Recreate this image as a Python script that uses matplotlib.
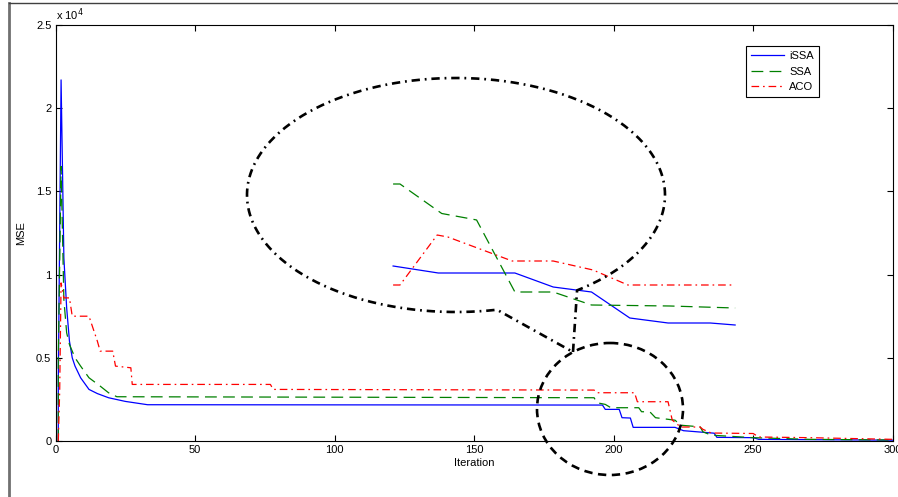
import numpy as np
import matplotlib
matplotlib.use("Agg")
import matplotlib.pyplot as plt
from matplotlib.patches import Ellipse

plt.rcParams['font.family'] = ['Liberation Sans', 'DejaVu Sans']
plt.rcParams['lines.scale_dashes'] = False

# ---------------- data (MSE in units of 1e4) ----------------
issa_iter = [1, 1, 2, 3, 4, 5, 6, 7, 9, 12, 15, 19, 25, 33, 196, 197, 202, 203, 206, 207,
             222, 225, 236, 237, 250, 252, 270, 300]
issa_mse = [0.0, 0.36, 2.17, 1.10, 0.80, 0.60, 0.50, 0.45, 0.38, 0.31, 0.285, 0.26, 0.238,
            0.218, 0.216, 0.19, 0.19, 0.14, 0.138, 0.082, 0.082, 0.062, 0.047, 0.022,
            0.02, 0.01, 0.008, 0.005]

ssa_iter = [1, 1, 2, 3, 4, 5, 7, 9, 12, 16, 19, 22, 193, 194, 197, 199, 209, 210, 213, 215,
            222, 224, 231, 232, 235, 250, 270, 300]
ssa_mse = [0.0, 0.5, 1.65, 0.85, 0.65, 0.58, 0.50, 0.45, 0.38, 0.33, 0.29, 0.266, 0.26,
           0.23, 0.22, 0.20, 0.20, 0.176, 0.175, 0.14, 0.125, 0.095, 0.085, 0.055, 0.035,
           0.02, 0.01, 0.006]

aco_iter = [1, 1.5, 2, 3, 5, 6, 12, 15, 16, 20.5, 21.5, 27, 27.5, 77, 78, 193, 194, 207.5,
            208.5, 219.5, 221, 224, 231, 232, 235, 250, 252, 270, 300]
aco_mse = [0.0, 0.3, 0.95, 0.86, 0.86, 0.75, 0.75, 0.60, 0.54, 0.54, 0.45, 0.44, 0.34, 0.34,
           0.31, 0.306, 0.29, 0.29, 0.236, 0.236, 0.126, 0.084, 0.084, 0.07, 0.048, 0.045,
           0.024, 0.02, 0.01]

# zoomed-in detail (inset, arbitrary magnified units)
zoom_issa_x = [-0.18, 1.0, 3.0, 4.0, 5.0, 6.0, 7.0, 8.1, 8.75]
zoom_issa_y = [7.4, 6.7, 6.7, 5.3, 4.8, 2.2, 1.7, 1.7, 1.5]
zoom_ssa_x = [-0.18, 0.0, 1.09, 1.87, 2.0, 3.0, 4.0, 5.0, 7.05, 8.75]
zoom_ssa_y = [15.6, 15.6, 12.65, 12.1, 12.0, 4.8, 4.8, 3.5, 3.4, 3.2]
zoom_aco_x = [-0.18, 0.0, 0.97, 1.25, 2.93, 4.0, 5.04, 5.95, 8.75]
zoom_aco_y = [5.5, 5.5, 10.5, 10.3, 7.9, 7.9, 7.0, 5.5, 5.5]

labels = ['iSSA', 'SSA', 'ACO']
x_ticks = [0, 50, 100, 150, 200, 250, 300]
y_ticks = [0, 0.5, 1, 1.5, 2, 2.5]
y_ticklabels = ['0', '0.5', '1', '1.5', '2', '2.5']

# ---------------- figure ----------------
W, H = 898, 497
fig = plt.figure(figsize=(W / 100, H / 100), dpi=100)


def px_rect(x0, y0, x1, y1):
    return [x0 / W, 1 - y1 / H, (x1 - x0) / W, (y1 - y0) / H]


ax = fig.add_axes(px_rect(55.5, 25, 892.7, 441))
lw = 0.9
ssa_dash = (8.5, 4.5)
aco_dash = (5.5, 2.8, 1.2, 2.8)
ax.plot(issa_iter, issa_mse, color='#0000ff', lw=lw, label=labels[0])
ax.plot(ssa_iter, ssa_mse, color='#008000', lw=lw, dashes=ssa_dash, label=labels[1])
ax.plot(aco_iter, aco_mse, color='#ff0000', lw=lw, dashes=aco_dash, label=labels[2])

ax.set_xlim(0, 300)
ax.set_ylim(0, 2.5)
ax.set_xticks(x_ticks)
ax.set_yticks(y_ticks)
ax.set_yticklabels(y_ticklabels)
ax.tick_params(direction='in', length=4, width=0.8, top=True, right=True,
               labelsize=8, pad=3, colors='black')
for s in ax.spines.values():
    s.set_linewidth(0.8)
ax.set_xlabel('Iteration', fontsize=8, labelpad=2)
ax.set_ylabel('MSE', fontsize=8, labelpad=7)
ax.text(0.0, (441 - 20) / 416, r'x 10$^{4}$', transform=ax.transAxes, fontsize=8,
        ha='left', va='baseline')

leg = ax.legend(loc='upper left', bbox_to_anchor=((745.7 - 55.5) / (892.7 - 55.5),
                                                  (441 - 46) / (441 - 25)),
                fontsize=8, frameon=True, fancybox=False, framealpha=1,
                edgecolor='black', borderaxespad=0, handlelength=3.0,
                handletextpad=0.45, labelspacing=0.5, borderpad=0.45)
leg.get_frame().set_linewidth(0.8)

# inset (frameless) with zoomed detail
ins = fig.add_axes(px_rect(380, 170, 750, 340))
ins.axis('off')
ins.set_xlim((380 - 400) / 38.3, (750 - 400) / 38.3)
ins.set_ylim(0, 17)
ins.plot(zoom_issa_x, zoom_issa_y, color='#0000ff', lw=lw)
ins.plot(zoom_ssa_x, zoom_ssa_y, color='#008000', lw=lw, dashes=ssa_dash)
ins.plot(zoom_aco_x, zoom_aco_y, color='#ff0000', lw=lw, dashes=aco_dash)

# annotation overlay in pixel coordinates
ov = fig.add_axes([0, 0, 1, 1], facecolor='none')
ov.set_xlim(0, W)
ov.set_ylim(H, 0)
ov.axis('off')

cx, cy, a, b = 456, 195, 209, 117
th = np.deg2rad(np.linspace(54.6, -281.3, 400))
ex = cx + a * np.cos(th)
ey = cy + b * np.sin(th)
tip = (573, 352)
px = np.concatenate([[tip[0]], ex, [tip[0]]])
py = np.concatenate([[tip[1]], ey, [tip[1]]])
ov.plot(px, py, color='black', lw=1.9, dashes=(6, 3.5, 1.3, 3.5), solid_capstyle='butt')

circ = Ellipse((610, 409), 146, 132, fill=False, edgecolor='black', lw=1.9,
               linestyle=(0, (6, 4)))
ov.add_patch(circ)

# outer frame lines
ov.plot([9, 9], [3, H], color='#707070', lw=2.0)
ov.plot([9, W], [3, 3], color='#404040', lw=1.0)

fig.savefig('out.png', dpi=100)
